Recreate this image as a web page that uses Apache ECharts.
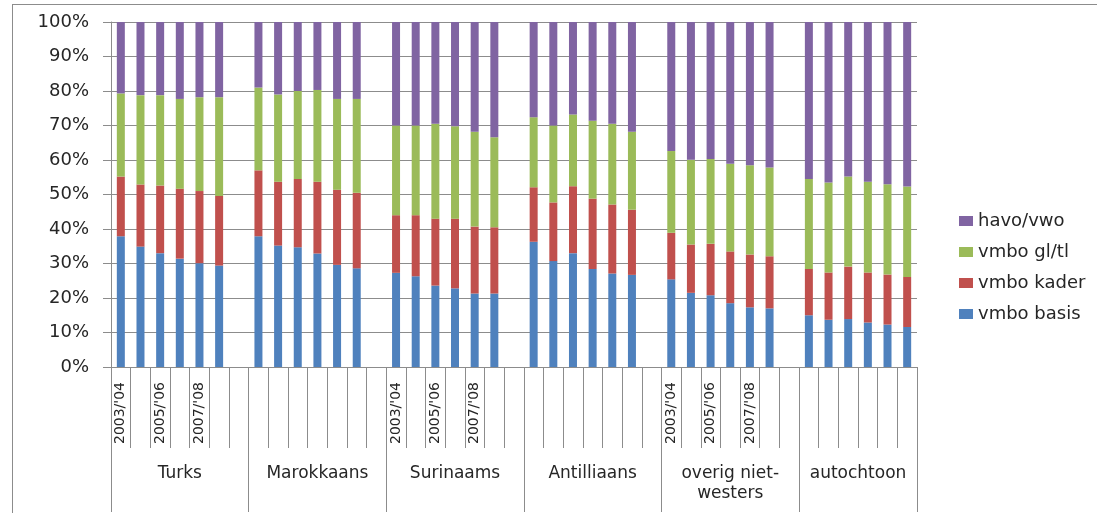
<!DOCTYPE html>
<html>
<head>
<meta charset="utf-8">
<script src="https://cdn.jsdelivr.net/npm/echarts@6/dist/echarts.min.js"></script>
<style>
html,body{margin:0;padding:0;background:#fff;}
#c{width:1097px;height:513px;}
#frame{position:absolute;left:12px;top:4px;width:1100px;height:520px;border-left:1px solid #8c8c8c;border-top:1px solid #8c8c8c;pointer-events:none;}
</style>
</head>
<body>
<div id="c"></div>
<div id="frame"></div>
<script>
// ---- data ----
const groups = ['Turks', 'Marokkaans', 'Surinaams', 'Antilliaans', 'overig niet-\nwesters', 'autochtoon'];
const years = ["2003/'04", "2004/'05", "2005/'06", "2006/'07", "2007/'08", "2008/'09"];
const seriesNames = ['vmbo basis', 'vmbo kader', 'vmbo gl/tl', 'havo/vwo'];
const legendOrder = ['havo/vwo', 'vmbo gl/tl', 'vmbo kader', 'vmbo basis'];
const yTicks = [0, 10, 20, 30, 40, 50, 60, 70, 80, 90, 100];

// percentages per group, 6 school years each
const vmboBasis = [
  [37.9, 34.9, 33.0, 31.4, 30.1, 29.4],
  [37.9, 35.2, 34.7, 32.9, 29.6, 28.6],
  [27.3, 26.3, 23.6, 22.8, 21.3, 21.3],
  [36.3, 30.7, 33.0, 28.4, 27.1, 26.7],
  [25.4, 21.5, 20.8, 18.5, 17.3, 17.0],
  [15.0, 13.7, 13.9, 12.9, 12.3, 11.6]
];
const vmboKader = [
  [17.3, 18.0, 19.6, 20.3, 20.9, 20.2],
  [19.1, 18.5, 19.8, 20.8, 21.8, 21.9],
  [16.7, 17.7, 19.4, 20.2, 19.4, 19.2],
  [15.8, 17.0, 19.4, 20.4, 20.0, 18.9],
  [13.5, 14.0, 14.9, 15.0, 15.3, 15.1],
  [13.4, 13.7, 15.2, 14.5, 14.5, 14.5]
];
const vmboGlTl = [
  [24.1, 25.9, 26.2, 26.0, 27.2, 28.6],
  [24.0, 25.3, 25.5, 26.6, 26.3, 27.2],
  [26.0, 26.0, 27.5, 26.8, 27.5, 26.1],
  [20.3, 22.3, 20.8, 22.6, 23.4, 22.6],
  [23.7, 24.6, 24.6, 25.4, 25.9, 25.7],
  [26.1, 26.1, 26.1, 26.3, 26.2, 26.2]
];
const havoVwo = [
  [20.7, 21.2, 21.2, 22.3, 21.8, 21.8],
  [19.0, 21.0, 20.0, 19.7, 22.3, 22.3],
  [30.0, 30.0, 29.5, 30.2, 31.8, 33.4],
  [27.6, 30.0, 26.8, 28.6, 29.5, 31.8],
  [37.4, 39.9, 39.7, 41.1, 41.5, 42.2],
  [45.5, 46.5, 44.8, 46.3, 47.0, 47.7]
];
const colors = ['#4F81BD', '#C0504D', '#9BBB59', '#8064A2'];

// ---- build flat category list: 6 bars + 1 empty slot per group (none after last) ----
const cats = [];      // {g, y} ; y = -1 for spacer
groups.forEach((g, gi) => {
  years.forEach((yr, yi) => cats.push({ g: gi, y: yi }));
  if (gi < groups.length - 1) cats.push({ g: gi, y: -1 });
});
const nCat = cats.length;
const flat = (arr) => cats.map(c => c.y < 0 ? '-' : arr[c.g][c.y]);

// group label centers (in category units)
const groupCenters = [];
{
  let start = 0;
  groups.forEach((g, gi) => {
    const len = years.length + (gi < groups.length - 1 ? 1 : 0);
    groupCenters.push({ v: start + len / 2, name: g });
    start += len;
  });
}

const font = 'DejaVu Sans';
const grey = '#8c8c8c';
const txt = '#262626';

const chart = echarts.init(document.getElementById('c'), null, { renderer: 'canvas' });
const option = {
  animation: false,
  color: colors,
  textStyle: { fontFamily: font },
  grid: { left: 111, right: 180, top: 22, bottom: 146, containLabel: false },
  legend: {
    data: legendOrder,
    orient: 'vertical',
    left: 954,
    top: 207,
    itemWidth: 14,
    itemHeight: 10,
    itemGap: 13,
    icon: 'rect',
    textStyle: { fontFamily: font, fontSize: 18, color: txt, lineHeight: 18 }
  },
  xAxis: [
    {
      type: 'category',
      position: 'bottom',
      data: cats.map((c, i) => String(i)),
      boundaryGap: true,
      axisLine: { show: true, lineStyle: { color: grey, width: 1 } },
      axisTick: { show: true, interval: 0, length: 81, lineStyle: { color: grey } },
      axisLabel: {
        interval: 0,
        rotate: 90,
        margin: 15,
        fontFamily: font,
        fontSize: 14,
        color: txt,
        formatter: (v) => {
          const c = cats[+v];
          if (c.y >= 0 && c.g % 2 === 0 && c.y % 2 === 0) return years[c.y];
          return '';
        }
      },
      splitLine: { show: false }
    },
    {
      type: 'value',
      position: 'bottom',
      min: 0, max: nCat, interval: 7,
      axisLine: { show: false },
      axisTick: { show: true, length: 145, lineStyle: { color: grey } },
      axisLabel: { show: false },
      splitLine: { show: false }
    },
    {
      type: 'value',
      position: 'bottom',
      min: 0, max: nCat, interval: 0.5,
      axisLine: { show: false },
      axisTick: { show: false },
      splitLine: { show: false },
      axisLabel: {
        show: true,
        margin: 97,
        fontFamily: font,
        fontSize: 17,
        lineHeight: 20,
        color: txt,
        verticalAlign: 'top',
        align: 'center',
        showMinLabel: true,
        showMaxLabel: true,
        formatter: (v) => {
          const m = groupCenters.find(gc => Math.abs(gc.v - v) < 1e-6);
          return m ? m.name : '';
        }
      }
    }
  ],
  yAxis: {
    type: 'value',
    min: 0, max: 100, interval: 10,
    axisLine: { show: true, lineStyle: { color: grey } },
    axisTick: { show: true, length: 8, lineStyle: { color: grey } },
    axisLabel: {
      margin: 22,
      fontFamily: font,
      fontSize: 18,
      color: txt,
      formatter: (v) => yTicks.includes(v) ? v + '%' : ''
    },
    splitLine: { show: true, lineStyle: { color: grey, width: 1 } }
  },
  series: [
    { name: seriesNames[0], type: 'bar', stack: 'a', barWidth: 8, data: flat(vmboBasis) },
    { name: seriesNames[1], type: 'bar', stack: 'a', barWidth: 8, data: flat(vmboKader) },
    { name: seriesNames[2], type: 'bar', stack: 'a', barWidth: 8, data: flat(vmboGlTl) },
    { name: seriesNames[3], type: 'bar', stack: 'a', barWidth: 8, data: flat(havoVwo) }
  ]
};
chart.setOption(option);
</script>
</body>
</html>
